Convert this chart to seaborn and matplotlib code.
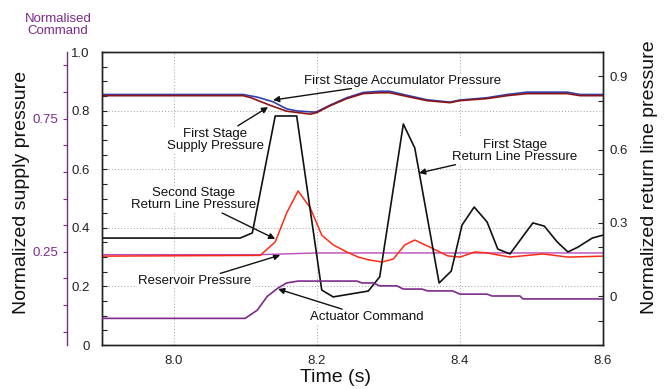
import numpy as np
import pandas as pd
import matplotlib
matplotlib.use("Agg")
import matplotlib.pyplot as plt
import seaborn as sns
from matplotlib.ticker import MultipleLocator, FixedLocator, FuncFormatter

# ---- measured traces (time in s) ----
# first stage supply / accumulator pressures (left axis, normalized)
supply_t = [7.90, 8.097, 8.107, 8.135, 8.158, 8.191, 8.200, 8.219, 8.242, 8.265, 8.288,
            8.302, 8.321, 8.354, 8.386, 8.400, 8.438, 8.466, 8.494, 8.550, 8.568, 8.60]
supply_p = [0.851, 0.851, 0.845, 0.818, 0.798, 0.788, 0.793, 0.817, 0.841, 0.858, 0.861,
            0.861, 0.851, 0.834, 0.827, 0.834, 0.841, 0.851, 0.858, 0.858, 0.851, 0.851]

accum_t = [7.90, 8.097, 8.117, 8.139, 8.158, 8.172, 8.195, 8.200, 8.219, 8.242, 8.265, 8.288,
           8.302, 8.321, 8.354, 8.386, 8.400, 8.438, 8.466, 8.494, 8.550, 8.568, 8.60]
accum_p = [0.855, 0.855, 0.846, 0.830, 0.806, 0.799, 0.795, 0.796, 0.819, 0.844, 0.862, 0.866,
           0.866, 0.855, 0.837, 0.829, 0.836, 0.844, 0.855, 0.863, 0.863, 0.855, 0.855]

# return line pressures (right axis, normalized)
first_ret_t = [7.90, 8.093, 8.110, 8.142, 8.172, 8.207, 8.223, 8.272, 8.288, 8.321, 8.337,
               8.371, 8.388, 8.403, 8.420, 8.438, 8.453, 8.470, 8.502, 8.518, 8.536, 8.551,
               8.565, 8.585, 8.60]
first_ret_p = [0.238, 0.238, 0.259, 0.738, 0.738, 0.025, -0.003, 0.021, 0.079, 0.705, 0.607,
               0.054, 0.103, 0.291, 0.365, 0.304, 0.193, 0.173, 0.300, 0.287, 0.222, 0.181,
               0.201, 0.238, 0.250]

second_ret_t = [7.90, 8.121, 8.142, 8.158, 8.174, 8.191, 8.207, 8.223, 8.242, 8.258, 8.274,
                8.291, 8.307, 8.323, 8.337, 8.358, 8.383, 8.400, 8.421, 8.438, 8.470, 8.516,
                8.551, 8.60]
second_ret_p = [0.164, 0.167, 0.222, 0.341, 0.431, 0.361, 0.250, 0.210, 0.181, 0.160, 0.148,
                0.140, 0.152, 0.210, 0.230, 0.201, 0.165, 0.160, 0.181, 0.177, 0.160, 0.173,
                0.160, 0.164]

reservoir_t = [7.90, 8.12, 8.20, 8.60]
reservoir_p = [0.170, 0.170, 0.177, 0.177]

# actuator command (normalised command axis)
command_t = [7.90, 8.100, 8.117, 8.131, 8.146, 8.158, 8.174, 8.256, 8.263, 8.279, 8.288,
             8.312, 8.321, 8.347, 8.355, 8.390, 8.400, 8.438, 8.445, 8.484, 8.488, 8.60]
command_v = [0.0, 0.0, 0.031, 0.083, 0.114, 0.133, 0.140, 0.140, 0.133, 0.133, 0.122,
             0.122, 0.110, 0.110, 0.103, 0.103, 0.091, 0.091, 0.084, 0.084, 0.073, 0.073]

# axis ticks
x_ticks = [8.0, 8.2, 8.4, 8.6]
right_ticks = [0.0, 0.3, 0.6, 0.9]
command_ticks = [0.25, 0.75]

sns.set_style("white")
plt.rcParams["font.family"] = ["Liberation Sans", "DejaVu Sans"]

PURPLE = "#7d2a8c"
fig = plt.figure(figsize=(6.66, 3.89), dpi=100)
ax = fig.add_axes([0.1532, 0.1131, 0.7522, 0.7532])
ax2 = ax.twinx()
ax3 = ax.twinx()


def trace(axis, t, v, color, lw=1.1, z=2):
    df = pd.DataFrame({"time": t, "value": v})
    sns.lineplot(data=df, x="time", y="value", ax=axis, color=color, lw=lw,
                 estimator=None, sort=False, legend=False, zorder=z)


trace(ax, accum_t, accum_p, "#2f3fb0", 1.2)
trace(ax, supply_t, supply_p, "#8e1414", 1.2)
trace(ax2, reservoir_t, reservoir_p, "#b84ab8", 1.0)
trace(ax2, second_ret_t, second_ret_p, "#ff2a14", 1.1)
trace(ax2, first_ret_t, first_ret_p, "#111111", 1.2)
trace(ax3, command_t, command_v, PURPLE, 1.2)

fmt = FuncFormatter(lambda v, _: "0" if abs(v) < 1e-9 else f"{v:.1f}")

# main axis
ax.set_xlim(7.9, 8.6)
ax.set_ylim(0, 1.0)
ax.xaxis.set_major_locator(FixedLocator(x_ticks))
ax.xaxis.set_minor_locator(MultipleLocator(0.05))
ax.yaxis.set_major_locator(MultipleLocator(0.2))
ax.yaxis.set_minor_locator(MultipleLocator(0.05))
ax.xaxis.set_major_formatter(FuncFormatter(lambda v, _: f"{v:.1f}"))
ax.yaxis.set_major_formatter(fmt)
ax.tick_params(axis="both", which="both", direction="in", length=3.5, width=0.8,
               labelsize=9.5, colors="#222222", top=False, right=False)
ax.tick_params(axis="y", pad=9)
ax.tick_params(axis="x", pad=7)
ax.grid(True, which="major", linestyle=(0, (1, 2)), color="#a8a8a8", lw=0.75)
ax.set_xlabel("")
ax.set_ylabel("")
for s in ax.spines.values():
    s.set_color("#222222")
    s.set_linewidth(1.0)

# return line axis
ax2.set_ylim(-0.2, 1.0)
ax2.yaxis.set_major_locator(FixedLocator(right_ticks))
ax2.yaxis.set_minor_locator(MultipleLocator(0.1))
ax2.yaxis.set_major_formatter(fmt)
ax2.tick_params(axis="y", which="both", direction="in", length=3.5, width=0.8,
                labelsize=9.5, colors="#222222", pad=5)
ax2.set_ylabel("")
for s in ax2.spines.values():
    s.set_color("#222222")
    s.set_linewidth(1.0)

# command axis, offset to the far left
ax3.set_ylim(-0.1, 1.0)
for side in ("right", "top", "bottom"):
    ax3.spines[side].set_visible(False)
ax3.spines["left"].set_visible(True)
ax3.spines["left"].set_position(("axes", -0.0699))
ax3.spines["left"].set_color(PURPLE)
ax3.spines["left"].set_linewidth(1.0)
ax3.yaxis.set_ticks_position("left")
ax3.yaxis.set_label_position("left")
ax3.yaxis.set_major_locator(FixedLocator(command_ticks))
ax3.yaxis.set_minor_locator(FixedLocator(list(np.arange(-0.05, 1.0, 0.1))))
ax3.yaxis.set_major_formatter(FuncFormatter(lambda v, _: f"{v:.2f}"))
ax3.tick_params(axis="y", which="both", direction="out", length=3, width=0.8,
                labelsize=9.5, colors=PURPLE, pad=3)
ax3.set_ylabel("")

fig.text(58 / 666, 1 - 25 / 389, "Normalised\nCommand", color=PURPLE, fontsize=9.5,
         ha="center", va="center", linespacing=1.05)

# axis titles
fig.text(22 / 666, 1 - 192 / 389, "Normalized supply pressure", rotation=90,
         fontsize=14, ha="center", va="center", color="#111111")
fig.text(650 / 666, 1 - 177 / 389, "Normalized return line pressure", rotation=90,
         fontsize=14, ha="center", va="center", color="#111111")
fig.text(336 / 666, 1 - 378 / 389, "Time (s)", fontsize=14, ha="center", va="center",
         color="#111111")

# callouts
arrow = dict(arrowstyle="-|>", color="#111111", lw=1.0, mutation_scale=9,
             shrinkA=1, shrinkB=0)
box = dict(boxstyle="square,pad=0.1", fc="white", ec="none")
notes = [
    ("First Stage Accumulator Pressure", (8.320, 0.901), (8.139, 0.836)),
    ("First Stage\nSupply Pressure", (8.058, 0.700), (8.132, 0.812)),
    ("Second Stage\nReturn Line Pressure", (8.028, 0.498), (8.142, 0.362)),
    ("Reservoir Pressure", (8.030, 0.218), (8.149, 0.307)),
    ("Actuator Command", (8.270, 0.096), (8.146, 0.191)),
    ("First Stage\nReturn Line Pressure", (8.477, 0.662), (8.343, 0.587)),
]
for text, xytext, xy in notes:
    ax.annotate(text, xy=xy, xytext=xytext, textcoords="data", fontsize=9.5,
                ha="center", va="center", linespacing=1.0, color="#111111",
                bbox=box, arrowprops=arrow, zorder=4)

fig.savefig("out.png", dpi=100, facecolor="white")
